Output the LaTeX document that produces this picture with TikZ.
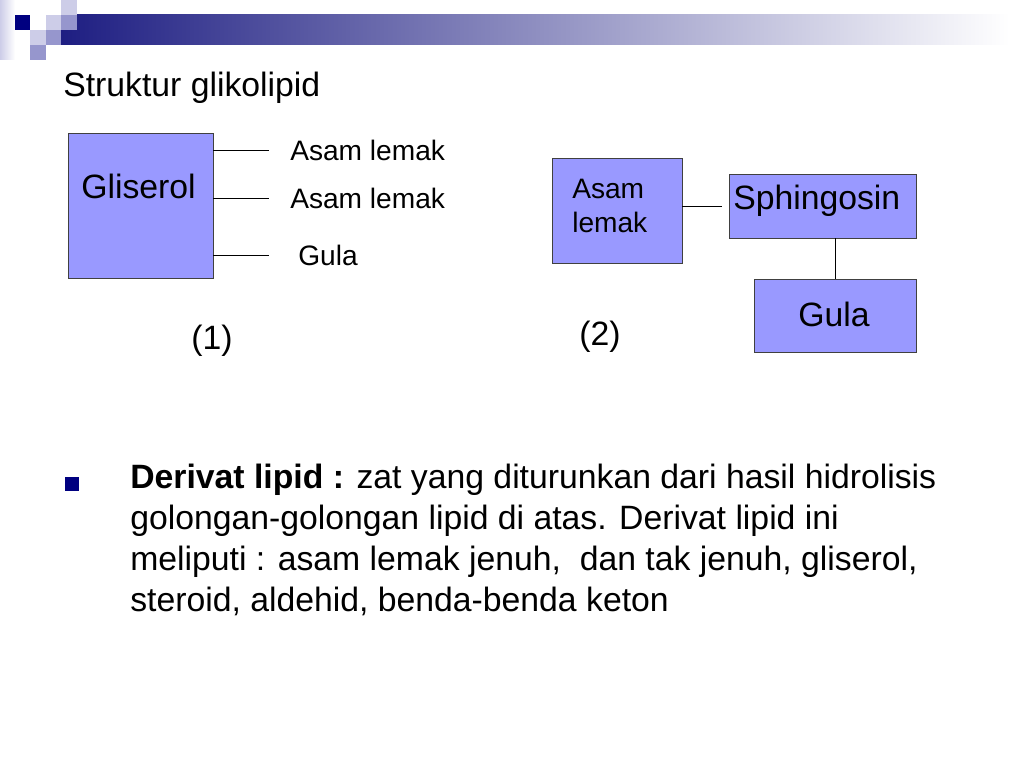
\documentclass[tikz,border=0pt]{standalone}
\usepackage{fontspec}
\setmainfont{Liberation Sans}
\usepackage{xcolor}
\usetikzlibrary{positioning,calc}

\definecolor{boxfill}{RGB}{153,153,255}
\definecolor{boxline}{RGB}{64,64,64}
\definecolor{navy}{RGB}{0,0,128}
\definecolor{barnavy}{RGB}{30,30,130}
\definecolor{sqmid}{RGB}{150,150,205}
\definecolor{sqlight}{RGB}{205,205,232}

\begin{document}
\begin{tikzpicture}[x=0.025cm, y=-0.025cm]
    % Styles
    \tikzstyle{blok} = [draw=boxline, fill=boxfill, line width=0.6pt, inner sep=0pt, outer sep=0pt]
    \tikzstyle{teks} = [inner sep=0pt, font=\fontsize{24}{29.2}\selectfont]
    \tikzstyle{kecil} = [inner sep=0pt, font=\fontsize{20}{24.2}\selectfont]
    \tikzstyle{garis} = [line width=0.6pt]

    \useasboundingbox (0,0) rectangle (1024,768);

    % Header decoration (top left)
    \shade[left color=sqlight, right color=white] (0,0) rectangle (15,60);
    \shade[left color=barnavy, right color=white] (61,15) rectangle (1010,45);
    \fill[navy] (15,15) rectangle (30,30);
    \fill[sqlight] (46,15) rectangle (61,30);
    \fill[sqlight] (61,0) rectangle (77,15);
    \fill[sqmid] (61,15) rectangle (77,30);
    \fill[sqlight] (30,30) rectangle (46,45);
    \fill[sqmid] (46,30) rectangle (61,45);
    \fill[sqmid] (30,45) rectangle (46,60);

    % Title
    \node[teks, anchor=base west] (judul) at (63,97) {Struktur glikolipid};

    % (1) Gliserol with three branches
    \node[blok, minimum width=3.625cm, minimum height=3.625cm] (gliserol) at (140.5,205.5) {};
    \node[teks, anchor=base west] (gliseroltxt) at (81,198) {Gliserol};
    \node[kecil, anchor=west] (al1) at (290,150) {Asam lemak};
    \node[kecil, anchor=west] (al2) at (290,198) {Asam lemak};
    \node[kecil, anchor=west] (gula1) at (298,255) {Gula};
    \coordinate (e1) at (269,150);
    \coordinate (e2) at (269,198);
    \coordinate (e3) at (269,255);
    \draw[garis] (gliserol.east |- e1) -- (e1);
    \draw[garis] (gliserol.east |- e2) -- (e2);
    \draw[garis] (gliserol.east |- e3) -- (e3);
    \node[teks] (satu) at (212,341) {(1)};

    % (2) Sphingosin with fatty acid and sugar
    \node[blok, minimum width=3.25cm, minimum height=2.625cm] (asam) at (617,210.5) {};
    \node[kecil, anchor=north west, align=left] (asamtxt) at (572,179) {Asam\\lemak};
    \node[blok, minimum width=4.675cm, minimum height=1.6cm] (sphingo) at (822.5,206) {};
    \node[teks, anchor=base west] (sphingotxt) at (733,209) {Sphingosin};
    \node[blok, minimum width=4.05cm, minimum height=1.825cm] (gula2) at (835,315.5) {};
    \node[teks, anchor=base west] (gula2txt) at (798,326) {Gula};
    \coordinate (jn) at (722,206);
    \draw[garis] (asam.east |- jn) -- (jn);
    \draw[garis] (gula2.north) -- (gula2.north |- sphingo.south);
    \node[teks] (dua) at (600,337) {(2)};

    % Bullet text
    \fill[navy] (65,477) rectangle (79,491);
    \node[teks, anchor=north west, align=left] (derivat) at (130,464)
        {\textbf{Derivat lipid :} zat yang diturunkan dari hasil hidrolisis\\
         golongan-golongan lipid di atas. Derivat lipid ini\\
         meliputi : asam lemak jenuh,\ \ dan tak jenuh, gliserol,\\
         steroid, aldehid, benda-benda keton};
\end{tikzpicture}
\end{document}
